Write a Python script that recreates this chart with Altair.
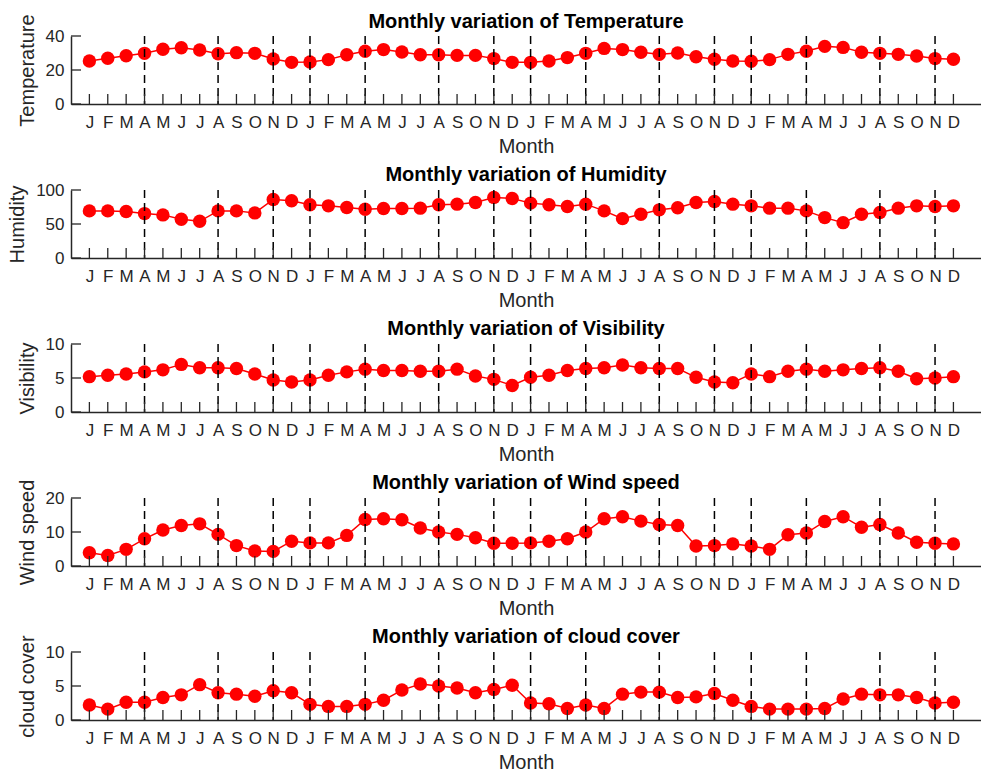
import altair as alt
import pandas as pd

# Four years of monthly observations (Jan..Dec, repeated)
month_letters = ["J", "F", "M", "A", "M", "J", "J", "A", "S", "O", "N", "D"]
month_index = list(range(1, 49))

# Months marked with dashed reference lines
marker_months = [4, 8, 11, 13, 16, 20, 23, 25, 28, 32, 35, 37, 40, 44, 47]

temperature = [
    25.3, 26.9, 28.4, 29.8, 32.2, 33.1, 31.8, 29.6, 30.2, 29.8, 26.5, 24.5,
    24.7, 26.1, 29.0, 31.0, 32.0, 30.6, 29.0, 29.0, 28.6, 28.6, 26.7, 24.5,
    24.5, 25.3, 27.3, 29.8, 32.7, 32.0, 30.4, 29.2, 30.0, 27.8, 26.3, 25.3,
    25.1, 26.1, 29.2, 31.0, 33.9, 33.3, 30.4, 29.8, 29.2, 28.2, 26.7, 26.3,
]
humidity = [
    69.3, 69.3, 68.3, 65.3, 63.4, 56.9, 54.0, 69.3, 69.3, 66.3, 86.1, 84.2,
    78.2, 76.7, 74.3, 71.8, 72.8, 72.8, 73.3, 78.2, 79.2, 81.7, 89.1, 87.6,
    80.7, 78.2, 75.7, 79.2, 69.3, 57.9, 64.4, 70.8, 73.8, 81.7, 83.2, 79.2,
    76.7, 73.3, 73.3, 69.3, 59.4, 52.0, 64.4, 66.8, 73.3, 76.7, 75.7, 76.7,
]
visibility = [
    5.2, 5.4, 5.6, 5.9, 6.2, 7.0, 6.5, 6.5, 6.4, 5.6, 4.7, 4.4,
    4.7, 5.4, 5.9, 6.3, 6.1, 6.1, 6.0, 6.0, 6.3, 5.3, 4.8, 3.9,
    5.1, 5.4, 6.1, 6.4, 6.5, 6.9, 6.5, 6.4, 6.4, 5.1, 4.4, 4.3,
    5.6, 5.2, 6.0, 6.3, 6.0, 6.2, 6.4, 6.5, 6.0, 4.9, 5.0, 5.2,
]
wind_speed = [
    3.9, 3.1, 4.9, 8.0, 10.6, 11.9, 12.4, 9.3, 6.0, 4.4, 4.3, 7.3,
    6.8, 6.8, 9.0, 13.7, 13.9, 13.6, 11.2, 10.0, 9.3, 8.3, 6.7, 6.7,
    6.8, 7.3, 8.0, 10.0, 13.9, 14.5, 13.2, 12.2, 11.9, 5.9, 6.0, 6.5,
    5.9, 4.9, 9.2, 9.7, 13.1, 14.5, 11.4, 12.2, 9.7, 7.0, 6.7, 6.5,
]
cloud_cover = [
    2.2, 1.6, 2.6, 2.6, 3.3, 3.7, 5.2, 4.0, 3.8, 3.5, 4.3, 4.0,
    2.3, 2.0, 2.0, 2.3, 2.9, 4.4, 5.3, 5.0, 4.7, 4.0, 4.5, 5.1,
    2.5, 2.4, 1.7, 2.2, 1.7, 3.8, 4.1, 4.1, 3.3, 3.4, 3.9, 2.9,
    2.0, 1.6, 1.6, 1.6, 1.7, 3.1, 3.8, 3.7, 3.7, 3.3, 2.5, 2.6,
]

# (y label, series, y range, y tick values)
panels = [
    ("Temperature", temperature, [0, 40], [0, 20, 40]),
    ("Humidity", humidity, [0, 100], [0, 50, 100]),
    ("Visibility", visibility, [0, 10], [0, 5, 10]),
    ("Wind speed", wind_speed, [0, 20], [0, 10, 20]),
    ("cloud cover", cloud_cover, [0, 10], [0, 5, 10]),
]

# The panel title sits above the axis bounds; a long rotated y title reaches
# above the plot, so pull the title back down by that overhang.
title_offsets = {
    "Temperature": -18,
    "Humidity": -3.5,
    "Visibility": -3.5,
    "Wind speed": -14,
    "cloud cover": -12,
}

RED = "#ff0000"
AXIS = "#262626"
FONT = "Liberation Sans"
W, H = 910, 68
TICK = 10

letters_js = "[" + ",".join(f"'{m}'" for m in month_letters) + "]"


def panel(label, values, y_range, y_ticks):
    x = alt.X(
        "month:Q",
        scale=alt.Scale(domain=[0, 49.5], nice=False, zero=False),
        axis=alt.Axis(
            values=month_index,
            labelExpr=f"{letters_js}[(datum.value - 1) % 12]",
            ticks=False, grid=False,
            domainColor=AXIS, domainWidth=1.5,
            labelFont=FONT, labelFontSize=17, labelColor=AXIS,
            labelPadding=10, labelOverlap=False, labelFlush=False,
            title="Month", titleFont=FONT, titleFontSize=20,
            titleFontWeight="normal", titleColor=AXIS, titlePadding=6,
        ),
    )
    y = alt.Y(
        "value:Q",
        scale=alt.Scale(domain=y_range, nice=False),
        axis=alt.Axis(
            values=y_ticks, ticks=False, grid=False,
            domainColor=AXIS, domainWidth=1.5,
            labelFont=FONT, labelFontSize=17, labelColor=AXIS,
            labelPadding=7,
            title=label, titleFont=FONT, titleFontSize=20,
            titleFontWeight="normal", titleColor=AXIS, titlePadding=8,
        ),
    )

    df = pd.DataFrame({"month": month_index, "value": values})
    line = alt.Chart(df).mark_line(color=RED, strokeWidth=1.5).encode(x=x, y=y)
    dots = alt.Chart(df).mark_circle(color=RED, size=180, opacity=1).encode(x=x, y=y)

    dashed = (
        alt.Chart(pd.DataFrame({"month": marker_months}))
        .mark_rule(color="black", strokeWidth=1.5, strokeDash=[8, 5])
        .encode(x=x, y=alt.value(0), y2=alt.value(H))
    )
    x_ticks = (
        alt.Chart(pd.DataFrame({"month": month_index}))
        .mark_rule(color=AXIS, strokeWidth=1.3)
        .encode(x=x, y=alt.value(H), y2=alt.value(H - TICK))
    )
    y_tick_marks = (
        alt.Chart(pd.DataFrame({"value": y_ticks}))
        .mark_rule(color=AXIS, strokeWidth=1.3)
        .encode(y=y, x=alt.value(0), x2=alt.value(TICK))
    )

    return alt.layer(line, dots, dashed, x_ticks, y_tick_marks).properties(
        width=W,
        height=H,
        title=alt.TitleParams(
            f"Monthly variation of {label}",
            font=FONT, fontSize=20, fontWeight="bold", color="black",
            anchor="middle", offset=title_offsets[label],
        ),
    )


chart = alt.vconcat(
    *[panel(*p) for p in panels], spacing=86, bounds="flush"
).properties(
    padding={"left": 7, "top": 11, "right": 0, "bottom": 0},
    background="white",
).configure_view(stroke=None)

chart.save("out.html", embed_options={"renderer": "svg", "actions": False})
